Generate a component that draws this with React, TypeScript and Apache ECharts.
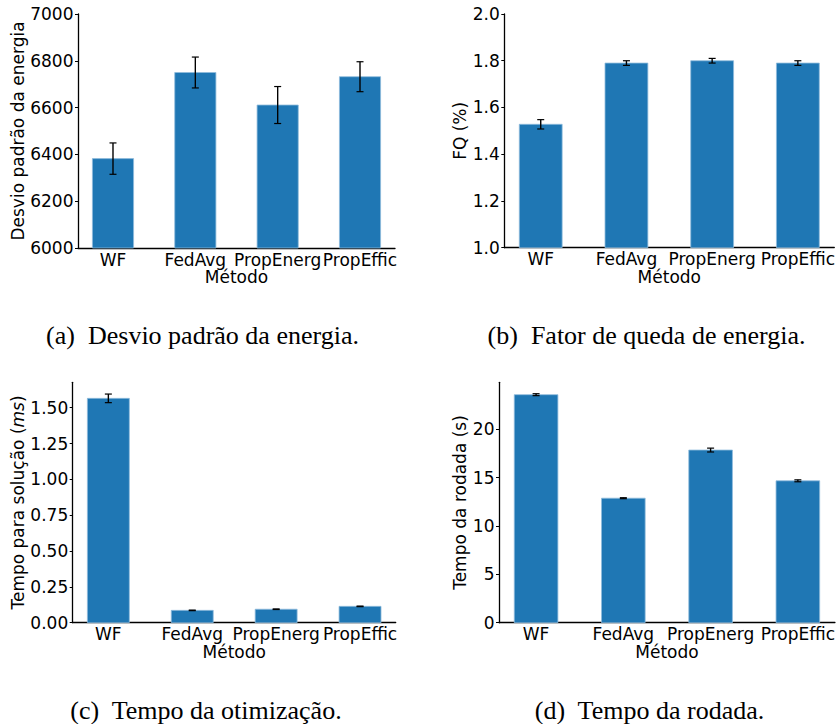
import React, { useEffect, useRef } from "react";
import * as echarts from "echarts";

const categories = ["WF", "FedAvg", "PropEnerg", "PropEffic"];

// (a) Desvio padrão da energia
const energyStd = [6382, 6750, 6611, 6732];
const energyStdErr = [67, 66, 79, 64];
// (b) Fator de queda
const fqValues = [1.528, 1.79, 1.8, 1.79];
const fqErr = [0.02, 0.01, 0.01, 0.01];
// (c) Tempo da otimização (ms)
const optTime = [1.565, 0.086, 0.094, 0.114];
const optTimeErr = [0.03, 0.002, 0.002, 0.002];
// (d) Tempo da rodada (s)
const roundTime = [23.59, 12.88, 17.86, 14.68];
const roundTimeErr = [0.1, 0.05, 0.2, 0.1];

const ticksA = [6000, 6200, 6400, 6600, 6800, 7000];
const ticksB = [1.0, 1.2, 1.4, 1.6, 1.8, 2.0];
const ticksC = [0, 0.25, 0.5, 0.75, 1.0, 1.25, 1.5];
const ticksD = [0, 5, 10, 15, 20];

const captions = [
  "(a)  Desvio padrão da energia.",
  "(b)  Fator de queda de energia.",
  "(c)  Tempo da otimização.",
  "(d)  Tempo da rodada.",
];

const FONT = "DejaVu Sans";
const FS = 17;
const BAR = "#1f77b4";

type Panel = {
  grid: { left: number; width: number; top: number; height: number };
  yMin: number;
  yMax: number;
  ticks: number[];
  decimals: number;
  name: string;
  nameGap: number;
  values: number[];
  errs: number[];
};

const panels: Panel[] = [
  {
    grid: { left: 78, width: 317, top: 14, height: 234 },
    yMin: 6000, yMax: 7000, ticks: ticksA, decimals: 0,
    name: "Desvio padrão da energia", nameGap: 51,
    values: energyStd, errs: energyStdErr,
  },
  {
    grid: { left: 504.3, width: 333.7, top: 14, height: 233.7 },
    yMin: 1.0, yMax: 2.0, ticks: ticksB, decimals: 1,
    name: "FQ (%)", nameGap: 34,
    values: fqValues, errs: fqErr,
  },
  {
    grid: { left: 72.7, width: 323, top: 382.3, height: 240.4 },
    yMin: 0, yMax: 1.677, ticks: ticksC, decimals: 2,
    name: "Tempo para solução ({i|ms})", nameGap: 46,
    values: optTime, errs: optTimeErr,
  },
  {
    grid: { left: 499, width: 339, top: 382.3, height: 240.4 },
    yMin: 0, yMax: 24.87, ticks: ticksD, decimals: 0,
    name: "Tempo da rodada (s)", nameGap: 28,
    values: roundTime, errs: roundTimeErr,
  },
];

export default function App() {
  const ref = useRef<HTMLDivElement>(null);
  useEffect(() => {
    if (!ref.current) return;
    const chart = echarts.init(ref.current, null, { renderer: "svg" });
    const grids: any[] = [];
    const xAxes: any[] = [];
    const yAxes: any[] = [];
    const series: any[] = [];
    panels.forEach((p, idx) => {
      grids.push({ left: p.grid.left, top: p.grid.top, width: p.grid.width, height: p.grid.height, containLabel: false });
      xAxes.push({
        type: "value",
        gridIndex: idx,
        min: -0.425,
        max: 3.425,
        name: "Método",
        nameLocation: "middle",
        nameGap: 16,
        nameTextStyle: { fontFamily: FONT, fontSize: FS, color: "#000" },
        axisLine: { show: true, onZero: false, lineStyle: { color: "#000", width: 1.3 } },
        axisTick: { show: false },
        splitLine: { show: false },
        axisLabel: {
          customValues: [0, 1, 2, 3],
          formatter: (v: number) => categories[Math.round(v)] ?? "",
          fontFamily: FONT,
          fontSize: FS,
          color: "#000",
          margin: 3,
        },
      });
      yAxes.push({
        type: "value",
        gridIndex: idx,
        min: p.yMin,
        max: p.yMax,
        name: p.name,
        nameLocation: "middle",
        nameRotate: 90,
        nameGap: p.nameGap,
        nameTextStyle: {
          fontFamily: FONT, fontSize: FS, color: "#000",
          rich: { i: { fontFamily: FONT, fontSize: FS, fontStyle: "italic", color: "#000" } },
        },
        axisLine: { show: true, onZero: false, lineStyle: { color: "#000", width: 1.3 } },
        axisTick: { show: true, length: 3, customValues: p.ticks, lineStyle: { color: "#000", width: 1 } },
        splitLine: { show: false },
        axisLabel: {
          customValues: p.ticks,
          formatter: (v: number) => v.toFixed(p.decimals),
          fontFamily: FONT,
          fontSize: FS,
          color: "#000",
          margin: 4.5,
        },
      });
      const yMin = p.yMin;
      series.push({
        type: "custom",
        xAxisIndex: idx,
        yAxisIndex: idx,
        clip: false,
        data: categories.map((c, i) => [i, p.values[i], p.errs[i]]),
        renderItem: (params: any, api: any) => {
          const x = api.value(0);
          const y = api.value(1);
          const e = api.value(2);
          const base = api.coord([x, yMin]);
          const top = api.coord([x, y]);
          const w = api.size([0.5, 0])[0];
          const lo = api.coord([x, y - e]);
          const hi = api.coord([x, y + e]);
          const cap = 3.5;
          const lw = 1.4;
          return {
            type: "group",
            children: [
              {
                type: "rect",
                shape: { x: top[0] - w / 2, y: top[1], width: w, height: base[1] - top[1] },
                style: { fill: BAR, stroke: "#8fbbdc", lineWidth: 0.8 },
              },
              {
                type: "rect",
                shape: { x: hi[0] - lw / 2, y: hi[1], width: lw, height: Math.max(lo[1] - hi[1], 0.5) },
                style: { fill: "#000" },
              },
              {
                type: "rect",
                shape: { x: lo[0] - cap, y: lo[1] - 0.6, width: cap * 2, height: 1.2 },
                style: { fill: "#000" },
              },
              {
                type: "rect",
                shape: { x: hi[0] - cap, y: hi[1] - 0.6, width: cap * 2, height: 1.2 },
                style: { fill: "#000" },
              },
            ],
          };
        },
      });
    });

    const capPos = [
      [202.5, 335],
      [646.5, 335],
      [206, 710],
      [649.5, 710],
    ];
    const graphic = captions.map((t, i) => ({
      type: "text",
      x: capPos[i][0],
      y: capPos[i][1],
      style: {
        text: t,
        fontFamily: "Liberation Serif",
        fontSize: 26,
        fill: "#000",
        align: "center",
        verticalAlign: "middle",
      },
    }));

    chart.setOption({
      animation: false,
      backgroundColor: "#fff",
      grid: grids,
      xAxis: xAxes,
      yAxis: yAxes,
      series,
      graphic,
    });
    return () => chart.dispose();
  }, []);
  return (
    <div
      ref={ref}
      style={{ position: "absolute", left: 0, top: 0, width: 838, height: 724 }}
    />
  );
}
